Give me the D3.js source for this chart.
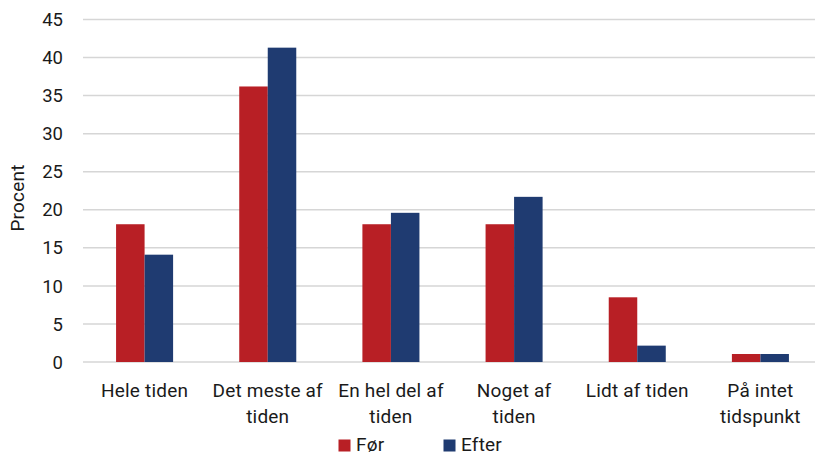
<!DOCTYPE html>
<html><head><meta charset="utf-8">
<script src="https://cdn.jsdelivr.net/npm/d3@7"></script>
<style>body{margin:0;background:#fff}svg{display:block}text{font-family:Roboto,"Noto Sans",sans-serif;fill:#1a1a1a}</style>
</head><body><svg id="c" width="815" height="455"></svg>
<script>
const categories = [["Hele tiden"],["Det meste af","tiden"],["En hel del af","tiden"],["Noget af","tiden"],["Lidt af tiden"],["På intet","tidspunkt"]];
const seriesNames = ["Før","Efter"];
const forValues = [18.1, 36.2, 18.1, 18.1, 8.5, 1.05];
const efterValues = [14.1, 41.3, 19.6, 21.7, 2.15, 1.05];
const yTicks = [0,5,10,15,20,25,30,35,40,45];
const colors = ["#B81F25","#1F3B71"];

const svg = d3.select("#c");
const x0 = d3.scaleBand().domain(d3.range(categories.length)).range([83, 822]).padding(0);
const y = d3.scaleLinear().domain([0,45]).range([362, 19.5]);
const gw = x0.bandwidth()*0.463;
const x1 = d3.scaleBand().domain([0,1]).range([0, gw]);

svg.append("g").selectAll("line").data(yTicks).join("line")
  .attr("x1",83).attr("x2",815).attr("y1",d=>y(d)).attr("y2",d=>y(d))
  .attr("stroke","#d6d6d6").attr("stroke-width",1.5);

svg.append("g").selectAll("text").data(yTicks).join("text")
  .attr("x",63).attr("y",d=>y(d)).attr("dy","0.36em").attr("text-anchor","end")
  .attr("font-size",18.5).text(d=>d);

const series = [forValues, efterValues];
series.forEach((vals,si)=>{
  svg.append("g").selectAll("rect").data(vals).join("rect")
    .attr("x",(d,i)=>x0(i)+(x0.bandwidth()-gw)/2+x1(si))
    .attr("width",x1.bandwidth())
    .attr("y",d=>y(d)).attr("height",d=>y(0)-y(d))
    .attr("fill",colors[si]);
});

const lab = svg.append("g").selectAll("text").data(categories).join("text")
  .attr("text-anchor","middle").attr("font-size",19).attr("letter-spacing",0.2)
  .attr("transform",(d,i)=>`translate(${x0(i)+x0.bandwidth()/2},396.5)`);
lab.each(function(lines){
  d3.select(this).selectAll("tspan").data(lines).join("tspan")
    .attr("x",0).attr("y",(d,j)=>j*26.7).text(d=>d);
});

svg.append("text").attr("transform","translate(24,198) rotate(-90)")
  .attr("text-anchor","middle").attr("font-size",19).attr("letter-spacing",0.2).text("Procent");

const legX = [338.5, 443.5];
seriesNames.forEach((n,i)=>{
  svg.append("rect").attr("x",legX[i]).attr("y",439.5).attr("width",12).attr("height",12).attr("fill",colors[i]);
  svg.append("text").attr("x",legX[i]+17.5).attr("y",451).attr("font-size",19).attr("letter-spacing",0.2).text(n);
});
</script></body></html>
